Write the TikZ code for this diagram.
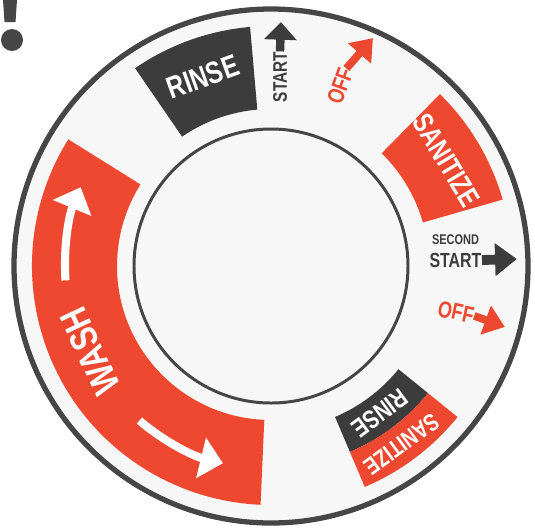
\documentclass[tikz,border=0pt]{standalone}
\usepackage{fontspec}
\newfontfamily\dialfont[FakeStretch=0.78]{Liberation Sans}
\usetikzlibrary{arrows.meta}
\definecolor{dialRed}{RGB}{238,72,48}
\definecolor{dialDark}{RGB}{60,60,60}
\definecolor{dialRing}{RGB}{70,70,70}
\definecolor{dialFace}{RGB}{247,247,247}

\begin{document}
\begin{tikzpicture}[
    scale=0.01,
    % Styles
    bandtext/.style={
        text=white,
        inner sep=0pt,
        font=\dialfont\bfseries
    },
    marktext/.style={
        inner sep=0pt,
        font=\dialfont\bfseries
    },
    washarrow/.style={-{Triangle[length=6.4pt, width=11.5pt]}, line width=2.3pt, white},
    markarrow/.style={-{Triangle[length=5.8pt, width=8.4pt]}, line width=2.2pt}
]
    \useasboundingbox (-271,-265) rectangle (264,266);

    % ---------------------------------------------------------
    % 1. DIAL FACE AND RINGS
    % ---------------------------------------------------------
    \fill[dialFace] (0,0) circle[radius=257];
    \draw[dialRing, line width=1.5pt] (0,0) circle[radius=257];

    % ---------------------------------------------------------
    % 2. COLOURED BANDS
    % ---------------------------------------------------------
    % WASH (left)
    \fill[dialRed] (148:154) -- (148:239) arc[start angle=148, end angle=267.5, radius=239]
        -- (267.5:154) arc[start angle=267.5, end angle=148, radius=154] -- cycle;
    % RINSE (top)
    \fill[dialDark] (95:157) -- (95:240) arc[start angle=95, end angle=124.5, radius=240]
        -- (124.5:157) arc[start angle=124.5, end angle=95, radius=157] -- cycle;
    % SANITIZE (right)
    \fill[dialRed] (16:158) -- (16:241) arc[start angle=16, end angle=45.5, radius=241]
        -- (45.5:158) arc[start angle=45.5, end angle=16, radius=158] -- cycle;
    % RINSE + SANITIZE (bottom right)
    \fill[dialDark] (-67:164) -- (-67:202) arc[start angle=-67, end angle=-39, radius=202]
        -- (-39:164) arc[start angle=-39, end angle=-67, radius=164] -- cycle;
    \fill[dialRed] (-67:202) -- (-67:240) arc[start angle=-67, end angle=-39, radius=240]
        -- (-39:202) arc[start angle=-39, end angle=-67, radius=202] -- cycle;

    % inner disc
    \draw[dialRing, line width=0.85pt] (0,0) circle[radius=137];

    % ---------------------------------------------------------
    % 3. BAND LABELS
    % ---------------------------------------------------------
    \node[bandtext, font=\dialfont\bfseries\fontsize{11}{11}\selectfont, rotate=115.2] (wash) at (205.2:200) {WASH};
    \node[bandtext, font=\dialfont\bfseries\fontsize{8.8}{8.8}\selectfont, rotate=19.8] (rinseTop) at (109.8:201) {RINSE};
    \node[bandtext, font=\dialfont\bfseries\fontsize{8.2}{8.2}\selectfont, rotate=-59] (sanitizeTop) at (31:205) {SANITIZE};
    \node[bandtext, font=\dialfont\bfseries\fontsize{7.4}{7.4}\selectfont, rotate=-143.5] (rinseLow) at (-53.5:183) {RINSE};
    \node[bandtext, font=\dialfont\bfseries\fontsize{6.9}{6.9}\selectfont, rotate=-143.8] (sanitizeLow) at (-53.8:221) {SANITIZE};

    % WASH arrows
    \draw[washarrow] (184:206) arc[start angle=184, end angle=157.5, radius=206];
    \draw[washarrow] (229.6:203) arc[start angle=229.6, end angle=256.3, radius=203];

    % ---------------------------------------------------------
    % 4. START / OFF MARKS
    % ---------------------------------------------------------
    \node[marktext, text=dialDark, font=\dialfont\bfseries\fontsize{5.6}{5.6}\selectfont, rotate=90] (startTop) at (9,189) {START};
    \coordinate (startTip) at (10,244);
    \draw[markarrow, dialDark, line width=2.4pt, -{Triangle[length=5pt, width=9pt]}] (startTop.east) -- (startTip);

    \node[marktext, text=dialRed, font=\dialfont\bfseries\fontsize{6.6}{6.6}\selectfont, rotate=70] (offTop) at (69,180) {OFF};
    \coordinate (offTopTip) at (102,228);
    \draw[markarrow, dialRed] (offTop.east) -- (offTopTip);

    \node[marktext, text=dialDark, font=\dialfont\bfseries\fontsize{4}{4}\selectfont] (secondLabel) at (184.5,26) {SECOND};
    \node[marktext, text=dialDark, font=\dialfont\bfseries\fontsize{5.8}{5.8}\selectfont] (secondStart) at (184.5,6) {START};
    \coordinate (secondTip) at (246,7);
    \draw[markarrow, dialDark, line width=2.8pt, -{Triangle[length=6.2pt, width=9pt]}] (secondStart.east) -- (secondTip);

    \node[marktext, text=dialRed, font=\dialfont\bfseries\fontsize{6.6}{6.6}\selectfont, rotate=-12] (offLow) at (185,-46) {OFF};
    \coordinate (offLowTip) at (234,-61);
    \draw[markarrow, dialRed] (offLow.east) -- (offLowTip);

    % ---------------------------------------------------------
    % 5. EXCLAMATION MARK (top left)
    % ---------------------------------------------------------
    \fill[dialRing] (-268,266) -- (-254,266) -- (-255.5,244) -- (-266.5,244) -- cycle;
    \fill[dialRing] (-259,226) circle[radius=11];

\end{tikzpicture}
\end{document}
